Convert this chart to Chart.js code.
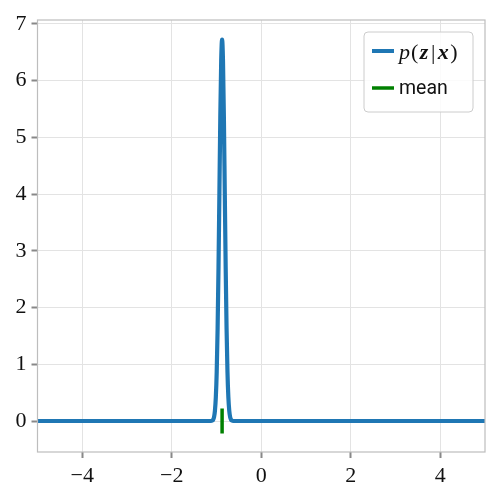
<!DOCTYPE html>
<html>
<head>
<meta charset="utf-8">
<script src="https://cdn.jsdelivr.net/npm/chart.js@4/dist/chart.umd.min.js"></script>
<style>
  html, body { margin: 0; padding: 0; background: #fff; }
  #wrap { width: 500px; height: 500px; }
</style>
</head>
<body>
<div id="wrap"><canvas id="grafico" width="500" height="500"></canvas></div>
<script>
// densidad p(z|x)
const Z_VALUES = [-5, -1.125, -1.095, -1.075, -1.055, -1.035, -1.015, -0.995, -0.975, -0.955, -0.935, -0.915, -0.895,
  -0.875, -0.855, -0.835, -0.815, -0.795, -0.775, -0.755, -0.735, -0.715, -0.695, -0.675, -0.655, -0.625, 5];
const P_VALUES = [0, 0, 0.007, 0.023, 0.068, 0.18, 0.42, 0.87, 1.63, 2.71, 4.03, 5.36, 6.35,
  6.72, 6.35, 5.36, 4.03, 2.71, 1.63, 0.87, 0.42, 0.18, 0.068, 0.023, 0.007, 0, 0];

// marca de la media
const MEAN_X = -0.875;
const MEAN_Y = [-0.22, 0.22];

const X_TICKS = [-4, -2, 0, 2, 4];
const Y_TICKS = [0, 1, 2, 3, 4, 5, 6, 7];

const SERIF = "'Liberation Serif', 'DejaVu Serif', serif";
const AZUL = "#1f77b4";
const VERDE = "#008000";

const fmt = v => (v < 0 ? "\u2212" + Math.abs(v) : String(v));

// marco completo alrededor del area de datos
const marco = {
  id: "marco",
  afterDatasetsDraw(chart) {
    const a = chart.chartArea, c = chart.ctx;
    c.save();
    c.strokeStyle = "#bdbdbd";
    c.lineWidth = 1.2;
    c.strokeRect(a.left, a.top, a.right - a.left, a.bottom - a.top);
    c.restore();
  }
};

// leyenda dentro del grafico con texto matematico
const leyenda = {
  id: "leyenda",
  afterDraw(chart) {
    const c = chart.ctx;
    const x0 = 364, y0 = 32, w = 109, h = 80;
    c.save();
    c.beginPath();
    c.roundRect(x0, y0, w, h, 4);
    c.fillStyle = "rgba(255,255,255,0.85)";
    c.fill();
    c.strokeStyle = "#cccccc";
    c.lineWidth = 1;
    c.stroke();

    c.lineCap = "butt";
    c.lineWidth = 4;
    c.strokeStyle = AZUL;
    c.beginPath(); c.moveTo(372, 51); c.lineTo(394, 51); c.stroke();
    c.lineWidth = 3.5;
    c.strokeStyle = VERDE;
    c.beginPath(); c.moveTo(372, 88); c.lineTo(394, 88); c.stroke();

    c.fillStyle = "#111";
    c.textBaseline = "middle";
    c.textAlign = "left";
    const partes = [
      ["p", "italic 22px " + SERIF, 1],
      ["(", "22px " + SERIF, 1.5],
      ["z", "italic bold 22px " + SERIF, 2.5],
      ["|", "22px " + SERIF, 2.5],
      ["x", "italic bold 22px " + SERIF, 1.5],
      [")", "22px " + SERIF, 0]
    ];
    let x = 399;
    partes.forEach(([t, f, hueco]) => {
      c.font = f;
      c.fillText(t, x, 53);
      x += c.measureText(t).width + hueco;
    });
    c.font = "19.5px Roboto, sans-serif";
    c.fillText("mean", 399, 89);
    c.restore();
  }
};

const ctx = document.getElementById("grafico").getContext("2d");
new Chart(ctx, {
  type: "line",
  data: {
    datasets: [
      {
        label: "mean",
        data: MEAN_Y.map(y => ({ x: MEAN_X, y })),
        borderColor: VERDE,
        borderWidth: 3.5,
        borderCapStyle: "butt",
        pointRadius: 0,
        order: 0
      },
      {
        label: "p(z|x)",
        data: Z_VALUES.map((z, i) => ({ x: z, y: P_VALUES[i] })),
        borderColor: AZUL,
        borderWidth: 4.2,
        borderJoinStyle: "round",
        cubicInterpolationMode: "monotone",
        pointRadius: 0,
        order: 1
      }
    ]
  },
  options: {
    responsive: false,
    animation: false,
    layout: { padding: { top: 20, right: 15, left: 0, bottom: 0 } },
    plugins: { legend: { display: false }, tooltip: { enabled: false } },
    scales: {
      x: {
        type: "linear",
        min: -5,
        max: 5,
        afterBuildTicks: s => { s.ticks = X_TICKS.map(v => ({ value: v })); },
        afterFit: s => { s.height = 48; },
        ticks: { callback: fmt, font: { family: SERIF, size: 22 }, color: "#111", padding: 5, maxRotation: 0 },
        grid: { color: "#e3e3e3", lineWidth: 1, tickLength: 6, tickColor: "#888", tickWidth: 2 },
        border: { display: false }
      },
      y: {
        type: "linear",
        min: -0.546,
        max: 7.066,
        afterBuildTicks: s => { s.ticks = Y_TICKS.map(v => ({ value: v })); },
        afterFit: s => { s.width = 37.5; },
        ticks: { callback: fmt, font: { family: SERIF, size: 22 }, color: "#111", padding: 5 },
        grid: { color: "#e3e3e3", lineWidth: 1, tickLength: 6, tickColor: "#888", tickWidth: 2 },
        border: { display: false }
      }
    }
  },
  plugins: [marco, leyenda]
});
</script>
</body>
</html>
